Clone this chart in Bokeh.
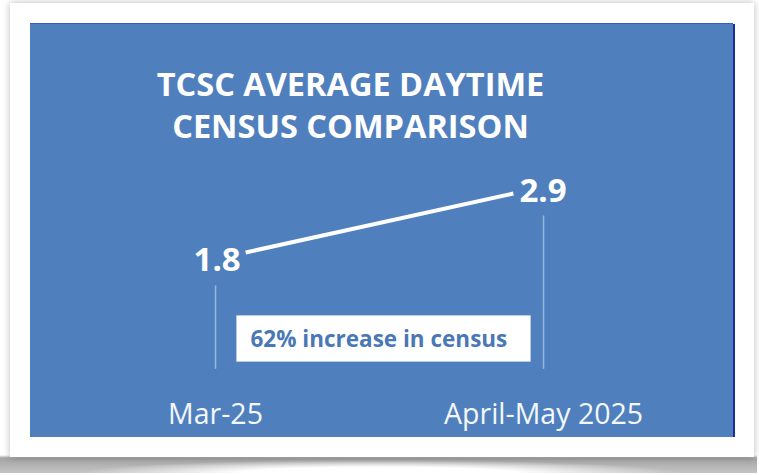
from bokeh.plotting import figure
from bokeh.models import Range1d, FixedTicker, Label, BoxAnnotation
from bokeh.layouts import column
from bokeh.core.properties import value
from bokeh.embed import file_html
from bokeh.resources import INLINE

# ---- data ----
categories = ["Mar-25", "April-May 2025"]
census = [1.8, 2.9]
title_lines = ["TCSC AVERAGE DAYTIME", "CENSUS COMPARISON"]
note = "62% increase in census"

BLUE = "#4F80BD"
FONT = "Open Sans"

xs = list(range(len(categories)))

p = figure(width=703, height=413, output_backend="svg", toolbar_location=None,
           x_range=Range1d(-0.564, 1.579), y_range=Range1d(-0.439, 6.054),
           min_border_left=0, min_border_right=0, min_border_top=0, min_border_bottom=65)
p.background_fill_color = BLUE
p.border_fill_color = BLUE
p.outline_line_color = None
p.grid.visible = False
p.yaxis.visible = False

ax = p.xaxis[0]
ax.ticker = FixedTicker(ticks=xs)
ax.major_label_overrides = {i: c for i, c in zip(xs, categories)}
ax.axis_line_color = None
ax.major_tick_line_color = None
ax.minor_tick_line_color = None
ax.major_tick_out = 0
ax.major_tick_in = 0
ax.major_label_standoff = 21
ax.major_label_text_color = "#F4F7FB"
ax.major_label_text_font = FONT
ax.major_label_text_font_size = "28.5px"

# drop lines from the points down to the base
px_per_unit = 53.6
gaps_px = [33, 22]
y_base = -0.37
p.segment(x0=xs, x1=xs, y0=[v - g / px_per_unit for v, g in zip(census, gaps_px)],
          y1=[y_base] * len(xs), line_color="#A9C3E6", line_width=1.5, line_alpha=0.8)

# connecting line (inset from category centres, as in the original)
inset = 0.092
p.line(x=[xs[0] + inset, xs[1] - inset], y=census, line_color="white", line_width=4)

# value labels
p.text(x=[xs[0] + inset], y=[census[0]], text=[f"{census[0]:.1f}"], text_align="right",
       text_baseline="middle", x_offset=-5, y_offset=7, text_color="white",
       text_font=value(FONT), text_font_style="bold", text_font_size="33px")
p.text(x=[xs[1] - inset], y=[census[1]], text=[f"{census[1]:.1f}"], text_align="left",
       text_baseline="middle", x_offset=6, y_offset=-3, text_color="white",
       text_font=value(FONT), text_font_style="bold", text_font_size="33px")

# title
for txt, yy in zip(title_lines, [289, 247]):
    p.add_layout(Label(x=320, y=yy, x_units="screen", y_units="screen", text=txt,
                       text_align="center", text_baseline="middle", text_color="white",
                       text_font=FONT, text_font_style="bold", text_font_size="32.5px"))

# note box
p.add_layout(BoxAnnotation(left=206, right=500, bottom=11, top=57,
                           left_units="screen", right_units="screen",
                           bottom_units="screen", top_units="screen",
                           fill_color="white", fill_alpha=1.0,
                           line_color="#DDE6F2", line_width=1))
p.add_layout(Label(x=220, y=34, x_units="screen", y_units="screen", text=note,
                   text_align="left", text_baseline="middle", text_color="#4A78B6",
                   text_font=FONT, text_font_style="bold", text_font_size="22.5px"))

p.margin = (21, 0, 0, 20)
p.styles = {"background-color": BLUE, "box-shadow": "2px 0 0 #1B2C9E, 0 -1px 0 #3A5CC8"}

card = column(p, width=744, height=454, margin=(3, 0, 0, 10),
              styles={"background-color": "white",
                      "box-shadow": "0 0 7px rgba(0,0,0,0.28)"})

page = column(card, width=757, height=473, margin=0,
              styles={"background": (
                  "radial-gradient(ellipse 300px 13px at 50% 100%, #ffffff 0%, #ffffff 45%, rgba(255,255,255,0) 100%), "
                  "linear-gradient(to bottom, #ffffff 0px, #ffffff 455px, #a4a4a4 458px, #c4c4c4 473px)")})

open("out.html", "w").write(file_html(page, INLINE))
